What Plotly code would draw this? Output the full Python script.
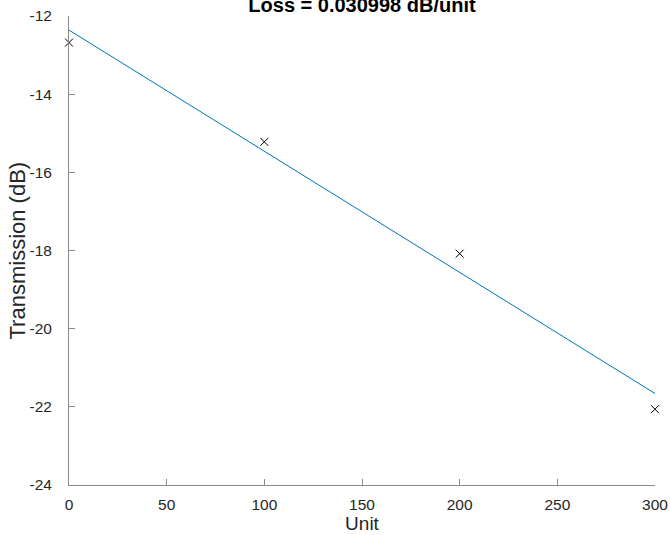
import numpy as np
import plotly.graph_objects as go

# Measured transmission at each unit count
units = [0, 100, 200, 300]
transmission_db = [-12.68, -15.22, -18.08, -22.06]

# Linear loss fit (dB per unit)
loss_db_per_unit = 0.030998
x_arr = np.array(units, dtype=float)
y_arr = np.array(transmission_db, dtype=float)
intercept = y_arr.mean() + loss_db_per_unit * x_arr.mean()
fit_x = [0, 300]
fit_y = [intercept - loss_db_per_unit * v for v in fit_x]

x_ticks = [0, 50, 100, 150, 200, 250, 300]
y_ticks = [-24, -22, -20, -18, -16, -14, -12]

family = "Liberation Sans, Arial, sans-serif"
text_color = "#262626"
axis_color = "#8a8a8a"

# Plot-area box in pixels
left, right, top, bottom = 69, 15, 16, 50
W, H = 670, 535
plot_w = W - left - right

fig = go.Figure()
fig.add_trace(go.Scatter(
    x=fit_x, y=fit_y, mode="lines",
    line=dict(color="#0072BD", width=1),
    showlegend=False, hoverinfo="skip",
))
fig.add_trace(go.Scatter(
    x=units, y=transmission_db, mode="markers",
    marker=dict(symbol="x-thin", size=8, line=dict(color="#000000", width=1)),
    showlegend=False, cliponaxis=False,
))

fig.update_layout(
    width=W, height=H,
    margin=dict(l=left, r=right, t=top, b=bottom, autoexpand=False),
    paper_bgcolor="white", plot_bgcolor="white",
    font=dict(family=family, color=text_color, size=15.5),
    title=dict(
        text="<b>Loss = 0.030998 dB/unit</b>",
        x=(left + W - right) / 2 / W, xanchor="center",
        yref="container", y=1 - 12 / H, yanchor="bottom",
        font=dict(family=family, size=20, color="#000000"),
    ),
    xaxis=dict(
        range=[0, 300], tickvals=x_ticks, ticktext=[str(v) for v in x_ticks],
        showgrid=False, zeroline=False, showline=True, linecolor=axis_color,
        linewidth=1, ticks="inside", ticklen=6, tickcolor=axis_color,
        tickfont=dict(family=family, size=15.5, color=text_color),
        ticklabelstandoff=5, automargin=False,
        title=dict(text="Unit", font=dict(family=family, size=19, color=text_color), standoff=2),
        mirror=False,
    ),
    yaxis=dict(
        range=[-24, -12], tickvals=y_ticks, ticktext=[str(v) for v in y_ticks],
        showgrid=False, zeroline=False, showline=True, linecolor=axis_color,
        linewidth=1, ticks="inside", ticklen=6, tickcolor=axis_color,
        tickfont=dict(family=family, size=15.5, color=text_color),
        ticklabelstandoff=13, automargin=False,
        mirror=False,
    ),
    annotations=[dict(
        text="Transmission (dB)", textangle=-90,
        xref="paper", yref="paper",
        x=(17 - left) / plot_w, y=0.5,
        xanchor="center", yanchor="middle", showarrow=False,
        font=dict(family=family, size=22, color=text_color),
    )],
)

fig.write_html("out.html")
